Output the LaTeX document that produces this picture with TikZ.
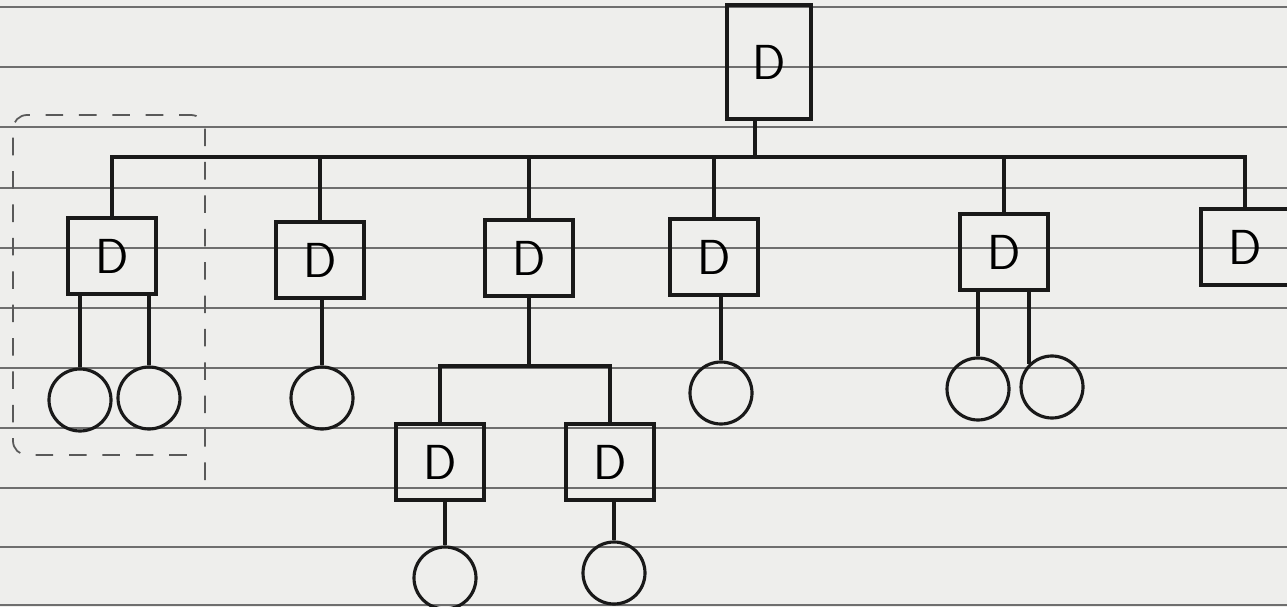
\documentclass[tikz,border=0pt]{standalone}
\usetikzlibrary{calc}
\definecolor{PaperClr}{RGB}{238,238,236}
\definecolor{RuleClr}{RGB}{110,110,110}
\definecolor{InkClr}{RGB}{25,25,25}

\begin{document}
\begin{tikzpicture}[x=0.02cm,y=-0.02cm,
  box/.style={draw=InkClr,line width=1.8pt,minimum width=1.76cm,minimum height=1.52cm,
    inner sep=0pt,font=\fontsize{28}{30}\selectfont\sffamily},
  leaf/.style={draw=InkClr,line width=1.8pt,circle,minimum size=1.24cm,inner sep=0pt},
  link/.style={draw=InkClr,line width=1.8pt},
  dashbox/.style={draw=gray!70!black,line width=1pt,dash pattern=on 10pt off 9pt,rounded corners=8pt},
  rule/.style={draw=RuleClr,line width=0.6pt}]

\useasboundingbox (0,0) rectangle (1287,607);
\clip (0,0) rectangle (1287,607);
\fill[PaperClr] (0,0) rectangle (1287,607);

% ruled paper
\foreach \y in {7,67,127,188,248,308,368,428,488,547,605}
  \draw[rule] (0,\y) -- (1287,\y);

% root and first level
\node[box,minimum width=1.68cm,minimum height=2.28cm] (root) at (769,62) {D};

\node[box] (c1) at (112,256) {D};
\node[box] (c2) at (320,260) {D};
\node[box] (c3) at (529,258) {D};
\node[box] (c4) at (714,257) {D};
\node[box] (c5) at (1004,252) {D};
\node[box] (c6) at (1245,247) {D};

\coordinate (bus) at (0,157);
\draw[link] ([xshift=-0.28cm]root.south) -- ([xshift=-0.28cm]root.south |- bus);
\draw[link] (c1.north) -- (c1.north |- bus) -- (c6.north |- bus) -- (c6.north);
\foreach \n in {c2,c3,c4,c5}
  \draw[link] (\n.north) -- (\n.north |- bus);

% second level under c3
\node[box] (g1) at (440,462) {D};
\node[box] (g2) at (610,462) {D};

\coordinate (bar) at (0,366);
\draw[link] (c3.south) -- (c3.south |- bar);
\draw[link] (g1.north) |- (c3.south |- bar) -| (g2.north);

% leaves
\node[leaf] (l1a) at (80,400) {};
\node[leaf] (l1b) at (149,398) {};
\node[leaf] (l2) at (322,398) {};
\node[leaf] (l4) at (721,393) {};
\node[leaf] (l5a) at (978,389) {};
\node[leaf] (l5b) at (1052,387) {};
\node[leaf] (lg1) at (445,578) {};
\node[leaf] (lg2) at (614,573) {};

\draw[link] (c1.south -| l1a.north) -- (l1a.north);
\draw[link] (c1.south -| l1b.north) -- (l1b.north);
\draw[link] (c2.south -| l2.north) -- (l2.north);
\draw[link] (c4.south -| l4.north) -- (l4.north);
\draw[link] (c5.south -| l5a.north) -- (l5a.north);
\draw[link] (c5.south -| l5b.135) -- (l5b.135);
\draw[link] (g1.south -| lg1.north) -- (lg1.north);
\draw[link] (g2.south -| lg2.north) -- (lg2.north);

% dashed group round c1
\draw[dashbox] (205,480) |- (13,115) |- (195,455);

\end{tikzpicture}
\end{document}
